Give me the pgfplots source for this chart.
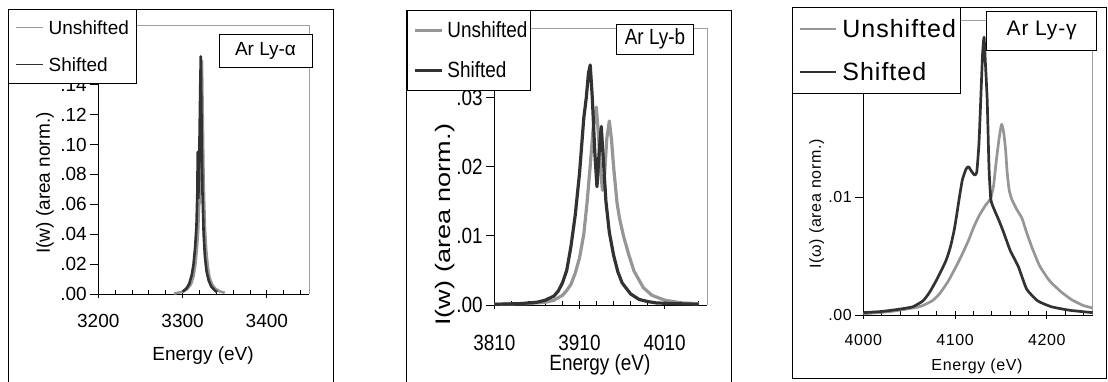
\documentclass[border=0pt]{standalone}
\usepackage{fontspec}
\setmainfont{Liberation Sans}
\newfontfamily\narrowfont{Liberation Sans}[FakeStretch=0.86]
\newfontfamily\widefont{Liberation Sans}[FakeStretch=1.29]
\newfontfamily\spacedfont{Liberation Sans}[LetterSpace=4]
\usepackage{pgfplots}
\pgfplotsset{compat=1.18}
\definecolor{lgray}{RGB}{150,150,150}
\definecolor{dgray}{RGB}{50,50,50}
\definecolor{fgray}{RGB}{160,160,160}
\pgfplotsset{
  panel/.style={
    scale only axis, clip=false,
    scaled y ticks=false, scaled x ticks=false,
    axis x line*=bottom, axis y line*=left,
    axis line style={-, black, line width=0.8pt},
    xtick align=center, ytick align=outside,
    major tick length=8pt, minor tick length=4pt,
    minor x tick style={yshift=2pt},
    tick style={black, line width=0.8pt},
    legend cell align=left,
  }
}
\begin{document}
\begin{tikzpicture}[x=1pt,y=1pt]
\path[use as bounding box] (0,0) rectangle (1108,382);
% outer frames
\draw[line width=0.8pt] (8.3,-10) -- (8.3,373) -- (333,373) -- (333,-10);
\draw[line width=0.8pt] (406.7,-10) -- (406.7,372) -- (731.7,372) -- (731.7,-10);
\draw[line width=0.8pt] (792.3,3.7) rectangle (1106.7,374.7);

% ---------- Panel 1 ----------
\begin{axis}[panel,
  at={(98.3pt,88pt)}, anchor=south west, width=210.7pt, height=269pt,
  xmin=3200, xmax=3450, ymin=0, ymax=0.18,
  xtick={3200,3300,3400}, xticklabels={3200,3300,3400},
  minor xtick={3220,3240,3260,3280,3320,3340,3360,3380,3420,3440},
  ytick={0,0.02,0.04,0.06,0.08,0.1,0.12,0.14},
  yticklabels={.00,.02,.04,.06,.08,.10,.12,.14},
  tick label style={font=\fontsize{19}{22}\selectfont},
  xticklabel style={yshift=-13pt},
  xlabel={Energy (eV)}, ylabel={I(w) (area norm.)},
  label style={font=\fontsize{19}{22}\selectfont},
  xlabel style={at={(axis description cs:0.497,-0.2305)}, anchor=center},
  ylabel style={at={(axis description cs:-0.253,0.4126)}, anchor=center},
  legend image code/.code={\draw[#1] (0pt,0pt) -- (27pt,0pt);},
  legend image post style={line width=1.2pt},
  legend style={at={(-0.427,1.0595)}, anchor=north west, draw=black, line width=0.8pt,
    fill=white, inner xsep=6.7pt, inner ysep=0pt, row sep=0pt, column sep=5pt,
    font=\fontsize{19}{22}\selectfont,
    nodes={inner sep=0pt, minimum height=37pt, text width=81.3pt, align=left}},
]
\draw[fgray, line width=0.8pt] (rel axis cs:0,1) -- (rel axis cs:1,1) -- (rel axis cs:1,0);
\addplot[lgray, line width=2.6pt, line join=round] coordinates {
(3290,0.0003) (3300,0.0015) (3305,0.003) (3310,0.0065) (3313,0.012) (3315,0.019)
(3317,0.03) (3318.5,0.043) (3319.5,0.058) (3320.2,0.062) (3321,0.09) (3322,0.13)
(3323,0.156) (3324,0.115) (3325,0.075) (3326.5,0.045) (3328,0.03) (3330,0.018)
(3332,0.011) (3335,0.0065) (3339,0.0035) (3344,0.0018) (3350,0.0008)};
\addlegendentry{Unshifted}
\addplot[dgray, line width=2.6pt, line join=round] coordinates {
(3300,0.0015) (3305,0.004) (3308,0.007) (3311,0.013) (3313,0.02) (3315,0.032)
(3316.5,0.046) (3317.5,0.068) (3318,0.095) (3318.7,0.064) (3320,0.1) (3321,0.14)
(3321.6,0.159) (3322.5,0.115) (3323.5,0.07) (3325,0.04) (3326.5,0.025) (3328.5,0.015)
(3331,0.009) (3334,0.005) (3338,0.0025) (3341,0.0012)};
\addlegendentry{Shifted}
\end{axis}

% ---------- Panel 2 ----------
\begin{axis}[panel,
  at={(494.3pt,77pt)}, anchor=south west, width=213pt, height=276.7pt,
  xmin=3810, xmax=4060, ymin=0, ymax=0.04,
  xtick={3810,3910,4010}, xticklabels={3810,3910,4010},
  minor xtick={3830,3850,3870,3890,3930,3950,3970,3990,4030,4050},
  ytick={0,0.01,0.02,0.03},
  yticklabels={.00,.01,.02,.03},
  tick label style={font=\narrowfont\fontsize{22}{26}\selectfont},
  xticklabel style={yshift=-23pt},
  xlabel={Energy (eV)}, ylabel={I(w) (area norm.)},
  xlabel style={font=\narrowfont\fontsize{22}{26}\selectfont, at={(axis description cs:0.496,-0.217)}, anchor=center},
  ylabel style={font=\widefont\fontsize{21}{25}\selectfont, at={(axis description cs:-0.2315,0.29)}, anchor=center},
  legend image code/.code={\draw[#1] (0pt,0pt) -- (26.7pt,0pt);},
  legend image post style={line width=3pt},
  legend style={at={(-0.411,1.066)}, anchor=north west, draw=black, line width=0.8pt,
    fill=white, inner xsep=6.6pt, inner ysep=0pt, row sep=0pt, column sep=4pt,
    font=\narrowfont\fontsize{22}{26}\selectfont,
    nodes={inner sep=0pt, minimum height=40pt, text width=76.7pt, align=left}},
]
\draw[fgray, line width=0.8pt] (rel axis cs:0,1) -- (rel axis cs:1,1) -- (rel axis cs:1,0);
\addplot[lgray, line width=3.2pt, line join=round] coordinates {
(3810,0.0001) (3850,0.0002) (3870,0.0004) (3880,0.0007) (3890,0.0014) (3895,0.0021)
(3900,0.003) (3905,0.0046) (3910,0.0068) (3915,0.0102) (3919,0.015) (3922.5,0.02)
(3926,0.0255) (3929.7,0.0286) (3932,0.025) (3935,0.019) (3937,0.0166) (3939.5,0.019)
(3942,0.024) (3945,0.0266) (3947.5,0.024) (3950,0.02) (3954,0.0148) (3957,0.0125)
(3962,0.0098) (3968,0.0072) (3974,0.0049) (3985,0.0025) (3995,0.0014) (4010,0.0007)
(4030,0.0003) (4050,0.0002)};
\addlegendentry{Unshifted}
\addplot[dgray, line width=3.2pt, line join=round] coordinates {
(3810,0.0001) (3840,0.0002) (3860,0.0004) (3870,0.0007) (3880,0.0013) (3885,0.002)
(3890,0.0032) (3895,0.005) (3900,0.0085) (3905,0.013) (3910,0.019) (3915,0.027)
(3918,0.030) (3920.5,0.0335) (3922.6,0.0347) (3925,0.030) (3928,0.022) (3930.5,0.0171)
(3933,0.022) (3935.5,0.0258) (3938,0.021) (3941,0.015) (3945,0.0105) (3950,0.0072)
(3955,0.0048) (3960,0.0032) (3970,0.0016) (3980,0.0008) (3990,0.0005) (4000,0.0003)
(4020,0.0002) (4050,0.0001)};
\addlegendentry{Shifted}
\end{axis}

% ---------- Panel 3 ----------
\begin{axis}[panel,
  at={(863.3pt,67pt)}, anchor=south west, width=229.4pt, height=294.3pt,
  xmin=4000, xmax=4250, ymin=0, ymax=0.025,
  xtick={4000,4100,4200}, xticklabels={4000,4100,4200},
  minor xtick={4020,4040,4060,4080,4120,4140,4160,4180,4220,4240},
  ytick={0,0.01},
  yticklabels={.00,.01},
  tick label style={font=\spacedfont\fontsize{16}{19}\selectfont},
  xticklabel style={yshift=-12pt},
  xlabel={Energy (eV)}, ylabel={I(ω) (area norm.)},
  label style={font=\spacedfont\fontsize{16}{19}\selectfont},
  xlabel style={at={(axis description cs:0.4957,-0.1757)}, anchor=center},
  ylabel style={at={(axis description cs:-0.203,0.377)}, anchor=center},
  legend image code/.code={\draw[#1] (0pt,0pt) -- (36.7pt,0pt);},
  legend image post style={line width=2pt},
  legend style={at={(-0.3095,1.0455)}, anchor=north west, draw=black, line width=0.8pt,
    fill=white, inner xsep=6pt, inner ysep=0pt, row sep=0pt, column sep=5pt,
    font=\spacedfont\fontsize{25}{30}\selectfont,
    nodes={inner sep=0pt, minimum height=43pt, text width=111.7pt, align=left}},
]
\draw[fgray, line width=0.8pt] (rel axis cs:0,1) -- (rel axis cs:1,1) -- (rel axis cs:1,0);
\addplot[lgray, line width=2.7pt, line join=round, smooth, tension=0.3] coordinates {
(4000,0.0001) (4030,0.0003) (4061,0.0007) (4075,0.0012) (4083,0.0018) (4092,0.0028)
(4101,0.0041) (4108,0.0052) (4115,0.0064) (4120,0.0074) (4126,0.0084) (4133,0.0093)
(4138.8,0.0099) (4142,0.011) (4144.2,0.0126) (4147.8,0.0149) (4150.7,0.0162)
(4153,0.0155) (4155,0.0141) (4156.8,0.0121) (4159,0.0106) (4162,0.0098) (4167,0.009)
(4173,0.0082) (4178,0.007) (4184,0.0057) (4192,0.0042) (4202,0.003) (4215,0.002)
(4227,0.0013) (4240,0.0008) (4250,0.0006)};
\addlegendentry{Unshifted}
\addplot[dgray, line width=2.7pt, line join=round, smooth, tension=0.3] coordinates {
(4000,0.0002) (4020,0.0003) (4040,0.0005) (4054,0.0007) (4065,0.0012) (4072,0.0019)
(4080,0.003) (4090,0.0046) (4095,0.0058) (4099,0.0072) (4102,0.0086) (4104.5,0.0099)
(4108,0.0115) (4112,0.0124) (4114.6,0.0126) (4118,0.0122) (4121,0.0119) (4123.6,0.0121)
(4126,0.0145) (4128,0.0183) (4130,0.0222) (4131.6,0.0236) (4133,0.0215) (4135,0.0183)
(4137,0.0125) (4139,0.0098) (4143,0.0089) (4148,0.008) (4153,0.007) (4160,0.0055)
(4169,0.0041) (4178,0.0022) (4190,0.0012) (4205,0.0007) (4225,0.0004) (4250,0.0002)};
\addlegendentry{Shifted}
\end{axis}

% ---------- title boxes ----------
\node[draw, line width=0.8pt, fill=white, minimum width=93pt, minimum height=33pt, inner sep=0pt,
  font=\fontsize{19}{22}\selectfont] at (265.5,331.5) {Ar Ly-α};
\node[draw, line width=0.8pt, fill=white, minimum width=76.6pt, minimum height=30pt, inner sep=0pt,
  font=\narrowfont\fontsize{22}{26}\selectfont] at (655,342.7) {Ar Ly-b};
\node[draw, line width=0.8pt, fill=white, minimum width=110pt, minimum height=39pt, inner sep=0pt,
  font=\spacedfont\fontsize{21}{25}\selectfont] at (1041.7,351.5) {Ar Ly-γ};
\end{tikzpicture}
\end{document}
